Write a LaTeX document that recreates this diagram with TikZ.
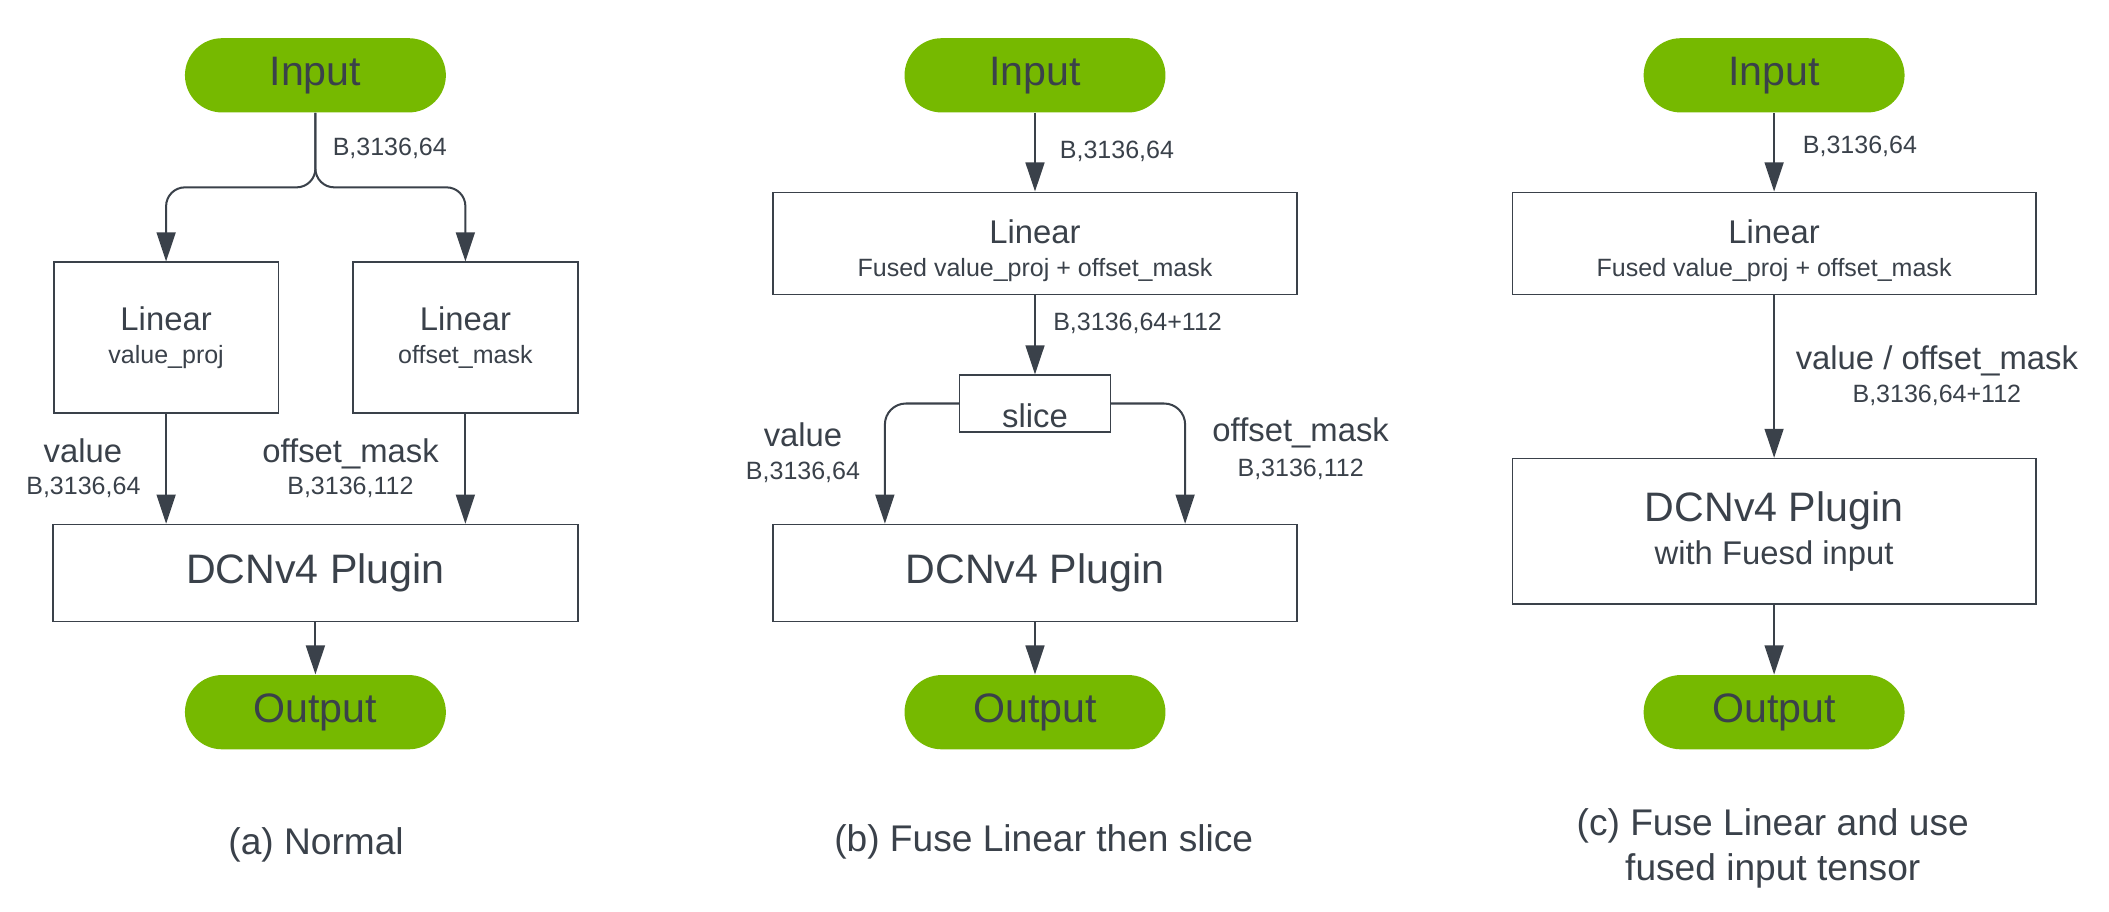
\documentclass[tikz,border=0pt]{standalone}
\usepackage{fontspec}
\setmainfont{Liberation Sans}
\usetikzlibrary{arrows.meta}
\usetikzlibrary{positioning}

\definecolor{nvgreen}{HTML}{76B900}
\definecolor{inkgray}{HTML}{3A414A}
\newcommand{\subtxt}[1]{{\fontsize{9.3}{11}\selectfont #1}}
\newcommand{\midtxt}[1]{{\fontsize{12.2}{12.5}\selectfont #1}}

\begin{document}
\begin{tikzpicture}[x=0.5pt, y=-0.5pt,
    pillnode/.style={rectangle, rounded corners=13.8pt, fill=nvgreen, text=inkgray, minimum width=97pt, minimum height=27.6pt, font=\fontsize{15.3}{16.2}\selectfont},
    boxnode/.style={rectangle, draw=inkgray, line width=0.6pt, text=inkgray, inner sep=0pt, align=center},
    bigtext/.style={font=\fontsize{15.3}{16.2}\selectfont},
    midtext/.style={text=inkgray, inner sep=0pt, font=\fontsize{12.2}{12.5}\selectfont},
    smalltext/.style={text=inkgray, inner sep=0pt, font=\fontsize{9.3}{11}\selectfont},
    captext/.style={text=inkgray, inner sep=0pt, align=center, font=\fontsize{13.8}{16.65}\selectfont},
    flow/.style={draw=inkgray, line width=0.75pt, -{Triangle[length=10.8pt, width=7pt]}}]
        \useasboundingbox (0,0) rectangle (1568,678);

        % (a) Normal
        \node[pillnode] (inA) at (234.5,56) {Input};
        \node[boxnode, minimum width=83.5pt, minimum height=56pt, font=\fontsize{12.2}{12.35}\selectfont] (linA1) at (123.5,251) {Linear\\\subtxt{value\_proj}};
        \node[boxnode, minimum width=83.5pt, minimum height=56pt, font=\fontsize{12.2}{12.35}\selectfont] (linA2) at (346,251) {Linear\\\subtxt{offset\_mask}};
        \node[boxnode, bigtext, minimum width=195pt, minimum height=36pt] (dcnA) at (234.5,426) {DCNv4 Plugin};
        \node[pillnode] (outA) at (234.5,529.5) {Output};
        \coordinate (splitA) at (234.5,139.3);

        \node[smalltext, anchor=base west] (dimA0) at (247,115.8) {B,3136,64};
        \node[midtext, anchor=base] (valA) at (61.6,343.6) {value};
        \node[smalltext, anchor=base] (valdimA) at (62,367.4) {B,3136,64};
        \node[midtext, anchor=base] (offA) at (260.6,343.6) {offset\_mask};
        \node[smalltext, anchor=base] (offdimA) at (260.5,367.4) {B,3136,112};
        \node[captext, anchor=base] (capA) at (235,635.4) {(a) Normal};

        \draw[flow, rounded corners=7pt] (inA.south) -- (splitA) -| (linA1.north);
        \draw[flow, rounded corners=7pt] (inA.south) -- (splitA) -| (linA2.north);
        \draw[flow] (linA1.south) -- (linA1.south |- dcnA.north);
        \draw[flow] (linA2.south) -- (linA2.south |- dcnA.north);
        \draw[flow] (dcnA) -- (outA);

        % (b) Fuse Linear then slice
        \node[pillnode] (inB) at (769.5,56) {Input};
        \node[boxnode, minimum width=195pt, minimum height=38pt, font=\fontsize{12.2}{12.55}\selectfont] (linB) at (769.5,181) {\rule{0pt}{14.2pt}Linear\\\subtxt{Fused value\_proj + offset\_mask}};
        \node[boxnode, minimum width=56pt, minimum height=21pt, text height=17.7pt, text depth=0pt, font=\fontsize{12.2}{12.5}\selectfont] (sliceB) at (769.5,300) {slice};
        \node[boxnode, bigtext, minimum width=195pt, minimum height=36pt] (dcnB) at (769.5,426) {DCNv4 Plugin};
        \node[pillnode] (outB) at (769.5,529.5) {Output};

        \node[smalltext, anchor=base west] (dimB0) at (787.6,117.6) {B,3136,64};
        \node[smalltext, anchor=base west] (dimB1) at (782.7,245.5) {B,3136,64+112};
        \node[midtext, anchor=base] (valB) at (597,332) {value};
        \node[smalltext, anchor=base] (valdimB) at (597,356.6) {B,3136,64};
        \node[midtext, anchor=base] (offB) at (967,328.5) {offset\_mask};
        \node[smalltext, anchor=base] (offdimB) at (967,354.5) {B,3136,112};
        \node[captext, anchor=base] (capB) at (776,633.3) {(b) Fuse Linear then slice};

        \draw[flow] (inB) -- (linB);
        \draw[flow] (linB) -- (sliceB);
        \draw[flow, rounded corners=7.8pt] (sliceB.west) -| ([xshift=-55.8pt]dcnB.north);
        \draw[flow, rounded corners=7.8pt] (sliceB.east) -| ([xshift=55.8pt]dcnB.north);
        \draw[flow] (dcnB) -- (outB);

        % (c) Fuse Linear and use fused input tensor
        \node[pillnode] (inC) at (1319,56) {Input};
        \node[boxnode, minimum width=194.5pt, minimum height=38pt, font=\fontsize{12.2}{12.55}\selectfont] (linC) at (1319,181) {\rule{0pt}{14.2pt}Linear\\\subtxt{Fused value\_proj + offset\_mask}};
        \node[boxnode, bigtext, minimum width=194.5pt, minimum height=54pt] (dcnC) at (1319,395) {DCNv4 Plugin\\\midtxt{with Fuesd input}};
        \node[pillnode] (outC) at (1319,529.5) {Output};

        \node[smalltext, anchor=base west] (dimC0) at (1340,114.5) {B,3136,64};
        \node[midtext, anchor=base] (valoffC) at (1440,274.5) {value / offset\_mask};
        \node[smalltext, anchor=base] (dimC1) at (1440,299.6) {B,3136,64+112};
        \node[captext] (capC) at (1318,631) {(c) Fuse Linear and use\\fused input tensor};

        \draw[flow] (inC) -- (linC);
        \draw[flow] (linC) -- (dcnC);
        \draw[flow] (dcnC) -- (outC);

    \end{tikzpicture}
\end{document}
